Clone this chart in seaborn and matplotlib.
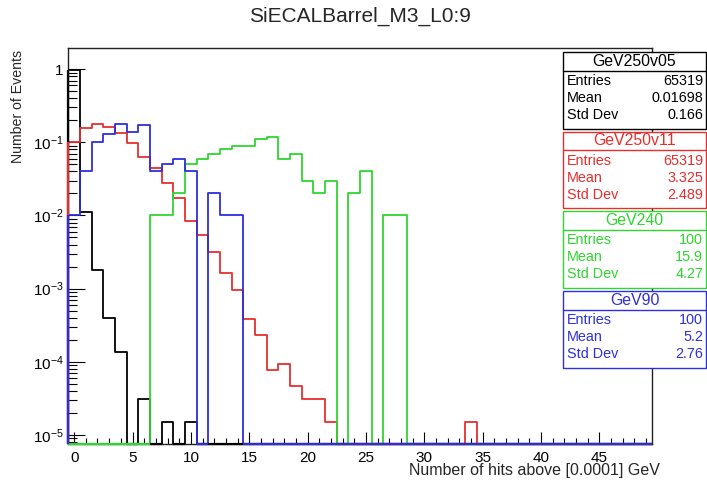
import numpy as np
import pandas as pd
import matplotlib
matplotlib.use("Agg")
import matplotlib.pyplot as plt
import seaborn as sns
from matplotlib.patches import Rectangle
from matplotlib.lines import Line2D
from matplotlib.ticker import FixedLocator, MultipleLocator, LogLocator, FuncFormatter, NullFormatter

sns.set_style("white")
plt.rcParams["font.family"] = ["Liberation Sans", "DejaVu Sans"]
plt.rcParams["mathtext.fontset"] = "custom"
plt.rcParams["mathtext.rm"] = "Liberation Sans"
plt.rcParams["mathtext.it"] = "Liberation Sans:italic"
plt.rcParams["mathtext.bf"] = "Liberation Sans:bold"

title = "SiECALBarrel_M3_L0:9"
x_label = "Number of hits above [0.0001] GeV"
y_label = "Number of Events"

# 50 unit-wide bins centred on 0..49
hit_range = (-0.5, 49.5)
hit_binwidth = 1.0
n_bins = 50

# Normalised bin contents (fraction of events); bins not listed are empty
v05_bins = [0, 1, 2, 3, 4, 6, 8, 10]
v05_vals = [0.9866, 0.011, 0.00177, 0.0004, 0.000135, 3.1e-5, 1.5e-5, 1.5e-5]

v11_bins = [0, 1, 2, 3, 4, 5, 6, 7, 8, 9, 10, 11, 12, 13, 14, 15, 16,
            17, 18, 19, 20, 21, 22, 34]
v11_vals = [0.100, 0.155, 0.180, 0.160, 0.133, 0.097, 0.064, 0.044, 0.0276,
            0.0172, 0.0083, 0.0054, 0.0032, 0.00163, 0.00097, 0.00038,
            0.00023, 7.7e-5, 9.2e-5, 4.6e-5, 3.1e-5, 3.1e-5, 1.5e-5, 1.5e-5]

g240_bins = [7, 8, 9, 10, 11, 12, 13, 14, 15, 16, 17, 18, 19, 20, 21, 22,
             24, 25, 27, 28]
g240_vals = [0.01, 0.01, 0.02, 0.05, 0.06, 0.07, 0.08, 0.09, 0.09, 0.11,
             0.12, 0.06, 0.07, 0.03, 0.02, 0.03, 0.02, 0.04, 0.01, 0.01]

g90_bins = [0, 1, 2, 3, 4, 5, 6, 7, 8, 9, 10, 12, 13, 14]
g90_vals = [0.01, 0.04, 0.10, 0.13, 0.18, 0.14, 0.17, 0.04, 0.05, 0.06,
            0.04, 0.02, 0.01, 0.01]

series_names = ["GeV250v05", "GeV250v11", "GeV240", "GeV90"]
series_colors = ["#000000", "#e62e2e", "#2ed62e", "#2e2ee0"]
stat_entries = ["65319", "65319", "100", "100"]
stat_means = ["0.01698", "3.325", "15.9", "5.2"]
stat_stds = ["0.166", "2.489", "4.27", "2.76"]

series_bins = [v05_bins, v11_bins, g240_bins, g90_bins]
series_vals = [v05_vals, v11_vals, g240_vals, g90_vals]

frames = []
for name, b, v in zip(series_names, series_bins, series_vals):
    frames.append(pd.DataFrame({"series": name, "hits": b, "fraction": v}))
hits = pd.concat(frames, ignore_index=True)

W, H = 707, 484
fig = plt.figure(figsize=(W / 100, H / 100), dpi=100)
fig.patch.set_facecolor("white")
ax_l, ax_r, ax_t, ax_b = 68.3, 652.0, 48.0, 444.0
ax = fig.add_axes([ax_l / W, 1 - ax_b / H, (ax_r - ax_l) / W, (ax_b - ax_t) / H])
ax.set_yscale("log")
y_floor, y_ceil = 7.5e-6, 1.95

line_w = 1.3
for name, color, b, v in zip(series_names, series_colors, series_bins, series_vals):
    sns.histplot(data=hits[hits["series"] == name], x="hits", weights="fraction",
                 binwidth=hit_binwidth, binrange=hit_range, element="step",
                 fill=False, color=color, linewidth=line_w, ax=ax)
    # empty bins sit on the frame floor, and the outline closes at the left edge
    content = np.zeros(n_bins)
    content[b] = v
    lo = hit_range[0]
    for k in np.flatnonzero(content == 0):
        ax.plot([lo + k, lo + k + 1], [y_floor, y_floor], color=color,
                linewidth=line_w + 0.3, clip_on=False, solid_capstyle="butt",
                zorder=3)
    if content[0] > 0:
        ax.plot([lo, lo], [y_floor, content[0]], color=color,
                linewidth=line_w + 0.3, clip_on=False, solid_capstyle="butt",
                zorder=3)

ax.set_xlim(*hit_range)
ax.set_ylim(y_floor, y_ceil)

# ROOT-style axes: inward ticks on bottom and left only
ax.xaxis.set_major_locator(MultipleLocator(5))
ax.xaxis.set_minor_locator(MultipleLocator(1))
ax.yaxis.set_major_locator(FixedLocator([1e-5, 1e-4, 1e-3, 1e-2, 1e-1, 1]))
ax.yaxis.set_minor_locator(LogLocator(base=10, subs=np.arange(2, 10), numticks=30))
ax.yaxis.set_minor_formatter(NullFormatter())


def decade_label(v, pos):
    e = int(round(np.log10(v)))
    return "1" if e == 0 else r"$\mathregular{10^{%d}}$" % e


ax.yaxis.set_major_formatter(FuncFormatter(decade_label))
ax.tick_params(axis="both", which="both", direction="in", top=False, right=False,
               bottom=True, left=True, colors="black", width=0.8, labelsize=11)
ax.tick_params(axis="x", which="major", length=8.5, pad=5)
ax.tick_params(axis="x", which="minor", length=4.3)
ax.tick_params(axis="y", which="major", length=12.5, pad=3.5)
ax.tick_params(axis="y", which="minor", length=6.5)
ax.set_xlabel("")
ax.set_ylabel("")
for side in ["top", "right", "left", "bottom"]:
    ax.spines[side].set_color("#222222")
    ax.spines[side].set_linewidth(1.0)


def fx(px):
    return px / W


def fy(py):
    return 1 - py / H


fig.text(fx(360), fy(16), title, ha="center", va="center", fontsize=15)
fig.text(fx(660), fy(471), x_label, ha="right", va="center", fontsize=11.5)
fig.text(fx(18), fy(50), y_label, ha="center", va="top", rotation=90, fontsize=10.2)

# statistics boxes
box_left, box_right = 563.0, 706.0
box_top0, box_pitch, box_h = 52.0, 79.7, 76.5
for i, (name, color) in enumerate(zip(series_names, series_colors)):
    top = box_top0 + i * box_pitch
    fig.add_artist(Rectangle((fx(box_left), fy(top + box_h)),
                             (box_right - box_left) / W, box_h / H,
                             transform=fig.transFigure, facecolor="white",
                             edgecolor=color, linewidth=1.0))
    fig.add_artist(Line2D([fx(box_left), fx(box_right)], [fy(top + 18.5)] * 2,
                          transform=fig.transFigure, color=color, linewidth=1.0))
    fig.text(fx((box_left + box_right) / 2), fy(top + 9), name, ha="center",
             va="center", fontsize=11.4, color=color)
    rows = [("Entries", stat_entries[i]), ("Mean", stat_means[i]),
            ("Std Dev", stat_stds[i])]
    for j, (lab, val) in enumerate(rows):
        yy = fy(top + 29 + 17 * j)
        fig.text(fx(box_left + 4), yy, lab, ha="left", va="center",
                 fontsize=10.4, color=color)
        fig.text(fx(box_right - 3), yy, val, ha="right", va="center",
                 fontsize=10.4, color=color)

fig.savefig("out.png", dpi=100, facecolor="white")
